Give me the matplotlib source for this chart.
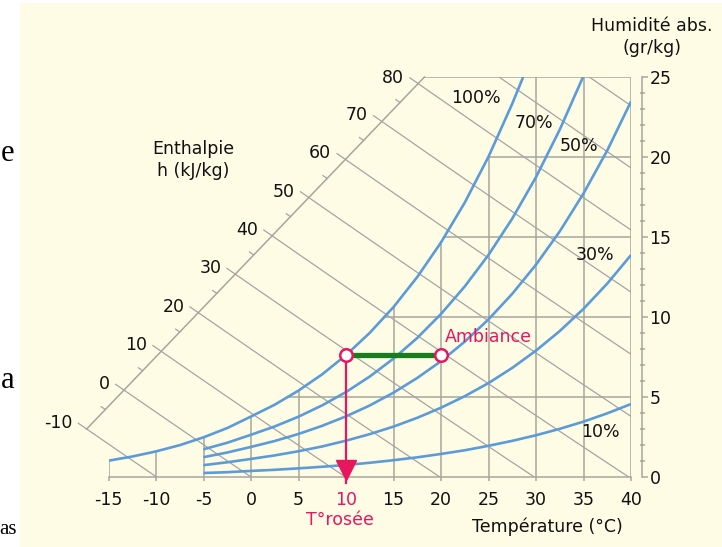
import numpy as np
import matplotlib
matplotlib.use('Agg')
import matplotlib.pyplot as plt
from matplotlib.patches import Polygon, Rectangle
from matplotlib.ticker import MultipleLocator

# saturation curve (100 %), temperature in deg C -> absolute humidity in g/kg
temp_sat = [-15, -12.5, -10, -7.5, -5, -2.5, 0, 2.5, 5, 7.5, 10, 12.5, 15,
            17.5, 20, 22.5, 25, 27.5, 28.65]
w_100 = [1.02, 1.28, 1.60, 1.99, 2.48, 3.06, 3.78, 4.52, 5.40, 6.42, 7.62,
         9.01, 10.62, 12.50, 14.66, 17.15, 20.02, 23.33, 25.0]

# other relative humidity curves start at -5 deg C
temp_rh = [-5, -2.5, 0, 2.5, 5, 7.5, 10, 12.5, 15, 17.5, 20, 22.5, 25, 27.5,
           30, 32.5, 35, 37.5, 40]
temp_70 = temp_rh[:16] + [34.95]
w_70 = [1.73, 2.14, 2.64, 3.16, 3.77, 4.48, 5.31, 6.28, 7.40, 8.69, 10.19,
        11.91, 13.88, 16.15, 18.74, 21.71, 25.0]
w_50 = [1.24, 1.53, 1.88, 2.25, 2.69, 3.20, 3.79, 4.47, 5.27, 6.19, 7.24,
        8.46, 9.85, 11.45, 13.27, 15.35, 17.72, 20.41, 23.47]
w_30 = [0.74, 0.92, 1.13, 1.35, 1.61, 1.91, 2.27, 2.68, 3.15, 3.70, 4.33,
        5.05, 5.87, 6.82, 7.90, 9.12, 10.51, 12.09, 13.87]
w_10 = [0.25, 0.30, 0.38, 0.45, 0.54, 0.64, 0.75, 0.89, 1.05, 1.23, 1.44,
        1.67, 1.95, 2.26, 2.61, 3.01, 3.46, 3.98, 4.56]

# enthalpy scale (kJ/kg), drawn on a diagonal from bottom-left to top-left corner
enthalpy_levels = [-10, 0, 10, 20, 30, 40, 50, 60, 70, 80, 90, 100]
enthalpy_labels = [-10, 0, 10, 20, 30, 40, 50, 60, 70, 80]
diag_t = [-17.3, 18.26]
diag_w = [3.0, 25.0]

x_ticks = [-15, -10, -5, 0, 5, 10, 15, 20, 25, 30, 35, 40]
y_ticks = [0, 5, 10, 15, 20, 25]
grid_w = [5, 10, 15, 20]

# the example point
t_ambiance, w_ambiance = 20, 7.6
t_dew = 10

PANEL = '#fffce6'
GRID = '#a6a69c'
HLINE = '#a4a4a4'
BLUE = '#5b9bd8'
PINK = '#e8155f'
GREEN = '#177d1f'
FONT = 12.5

plt.rcParams['font.family'] = ['DejaVu Sans']

fig = plt.figure(figsize=(7.22, 5.47), dpi=100)
fig.patch.set_facecolor('white')
fig.add_artist(Rectangle((20 / 722, 0), 1, 544 / 547, transform=fig.transFigure,
                         facecolor=PANEL, edgecolor='none', zorder=-10))

ax = fig.add_axes([108.5 / 722, 70 / 547, 522.5 / 722, 400 / 547])
ax.set_xlim(-15, 40)
ax.set_ylim(0, 25)
ax.patch.set_visible(False)


def t_of_h(h, w):
    return (h - 2.501 * w) / (1.006 + 0.00186 * w)


# grid: verticals stop at the saturation curve, horizontals start there
for t in x_ticks[:-1]:
    top = min(np.interp(t, temp_sat, w_100), 25)
    ax.plot([t, t], [0, top], color=GRID, lw=1.1, zorder=1)
ax.plot([40, 40], [0, 25], color=GRID, lw=1.1, zorder=1)
for w in grid_w:
    ax.plot([np.interp(w, w_100, temp_sat), 40], [w, w], color=GRID, lw=1.1, zorder=1)
ax.plot([diag_t[1], 40], [25, 25], color=GRID, lw=1.1, zorder=1)
ax.plot(diag_t, diag_w, color=GRID, lw=1.1, zorder=1, clip_on=False)

# enthalpy lines, clipped to the chart area
clip = Polygon([(diag_t[0], diag_w[0]), (diag_t[1], diag_w[1]), (40, 25), (40, 0),
                (-20, 0)], closed=True, transform=ax.transData)
ws = np.linspace(-1, 27, 200)
for h in enthalpy_levels:
    ln, = ax.plot(t_of_h(h, ws), ws, color=HLINE, lw=0.9, zorder=1)
    ln.set_clip_box(None)
    ln.set_clip_path(clip)

# ticks and labels on the enthalpy scale
wf = np.linspace(0, 30, 6001)
for h in np.arange(-10, 81, 5):
    f = t_of_h(h, wf) - np.interp(wf, diag_w, diag_t)
    wi = np.interp(0, f[::-1], wf[::-1])
    ext = 0.36 if h % 10 == 0 else 0.18
    ax.plot([t_of_h(h, wi), t_of_h(h, wi + ext)], [wi, wi + ext], color=HLINE,
            lw=0.9, zorder=1, clip_on=False)
    if h in enthalpy_labels:
        ax.annotate(str(int(h)), (t_of_h(h, wi), wi), xytext=(-14, 6),
                    textcoords='offset pixels', ha='right', va='center',
                    fontsize=FONT, color='#111111', annotation_clip=False)

# relative humidity curves
curve_kw = dict(color=BLUE, lw=1.9, zorder=3, solid_capstyle='butt')
ax.plot(temp_sat, w_100, **curve_kw)
ax.plot(temp_70, w_70, **curve_kw)
ax.plot(temp_rh, w_50, **curve_kw)
ax.plot(temp_rh, w_30, **curve_kw)
ax.plot(temp_rh, w_10, **curve_kw)

rh_labels = [('100%', 23.7, 23.7), ('70%', 29.8, 22.1), ('50%', 34.5, 20.7),
             ('30%', 36.2, 13.9), ('10%', 36.8, 2.8)]
for txt, t, w in rh_labels:
    ax.text(t, w, txt, ha='center', va='center', fontsize=FONT, color='#111111')

# ambient point -> dew point
ax.plot([t_dew, t_ambiance], [w_ambiance, w_ambiance], color=GREEN, lw=3.8,
        zorder=4, solid_capstyle='butt')
ax.plot([t_dew, t_dew], [w_ambiance, -0.4], color=PINK, lw=1.6, zorder=4,
        clip_on=False)
ax.plot([t_dew], [0.45], marker='v', ms=14, color=PINK, zorder=5, clip_on=False)
ax.plot([t_dew, t_ambiance], [w_ambiance, w_ambiance], ls='none', marker='o',
        ms=9, mfc='white', mec=PINK, mew=1.8, zorder=6)
ax.annotate('Ambiance', (t_ambiance, w_ambiance), xytext=(4, 18),
            textcoords='offset pixels', ha='left', va='center', fontsize=FONT,
            color=PINK)
ax.annotate('T°rosée', (t_dew, 0), xytext=(-6, -43), textcoords='offset pixels',
            ha='center', va='center', fontsize=FONT, color=PINK,
            annotation_clip=False)
ax.annotate('Température (°C)', (40, 0), xytext=(-8, -50),
            textcoords='offset pixels', ha='right', va='center', fontsize=FONT,
            color='#111111', annotation_clip=False)
ax.text(-6.05, 19.8, 'Enthalpie\nh (kJ/kg)', ha='center', va='center',
        fontsize=FONT, color='#111111', linespacing=1.25)
fig.text(652 / 722, 1 - 37 / 547, 'Humidité abs.\n(gr/kg)', ha='center',
         va='center', fontsize=FONT, color='#111111', linespacing=1.25)

# axes
for side in ['left', 'top']:
    ax.spines[side].set_visible(False)
ax.spines['bottom'].set_color(GRID)
ax.spines['bottom'].set_linewidth(1.1)
ax.spines['right'].set_color(GRID)
ax.spines['right'].set_linewidth(1.1)
ax.spines['right'].set_position(('outward', 7.6))

ax.set_xticks(x_ticks)
ax.set_xticklabels([str(t) for t in x_ticks])
ax.tick_params(axis='x', direction='out', length=3, width=1.1, color=GRID,
               labelsize=FONT, labelcolor='#111111', pad=7)
ax.get_xticklabels()[x_ticks.index(t_dew)].set_color(PINK)

ax.yaxis.tick_right()
ax.set_yticks(y_ticks)
ax.yaxis.set_minor_locator(MultipleLocator(1))
ax.tick_params(axis='y', which='major', direction='out', length=4.3, width=1.1,
               color=GRID, labelsize=FONT, labelcolor='#111111', pad=1.5)
ax.tick_params(axis='y', which='minor', direction='inout', length=3.6, width=1.1,
               color=GRID)

# bits of the surrounding page text at the left edge
for txt, x, y, size in [('e', 14, 153, 22), ('a', 15, 380, 22), ('as', 17, 530, 15)]:
    fig.text(x / 722, 1 - y / 547, txt, ha='right', va='center',
             family='Liberation Serif', fontsize=size, color='black')

fig.savefig('out.png', dpi=100, facecolor='white')
